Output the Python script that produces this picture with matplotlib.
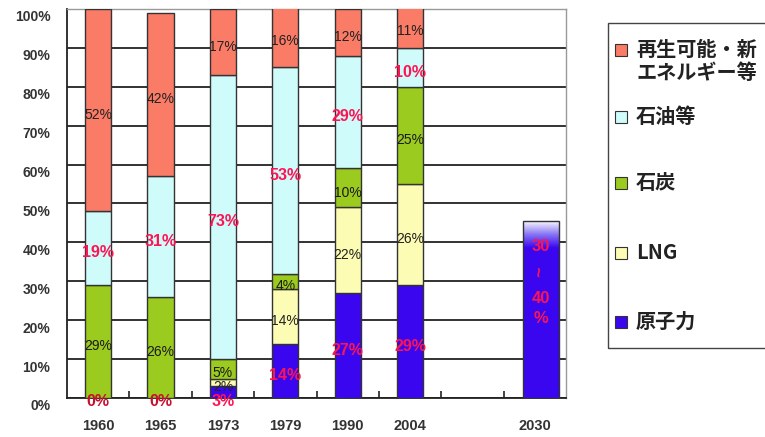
import matplotlib
matplotlib.use("Agg")
import matplotlib.pyplot as plt
import matplotlib.patches as mpatches
import matplotlib.transforms as mtransforms
import numpy as np

# 電源構成比 (%)
years = ["1960", "1965", "1973", "1979", "1990", "2004", "", "2030"]
nuclear = [0, 0, 3, 14, 27, 29]
lng = [0, 0, 2, 14, 22, 26]
coal = [29, 26, 5, 4, 10, 25]
oil = [19, 31, 73, 53, 29, 10]
renewable = [52, 42, 17, 16, 12, 11]
nuclear_2030 = (30, 40)  # 目標レンジ

series_names = ["再生可能・新\nエネルギー等", "石油等", "石炭", "LNG", "原子力"]
series_colors = ["#FA7B66", "#CFFBFB", "#9BCB1E", "#FCFCB4", "#3A06F0"]
red_label = "#FF1453"

plt.rcParams["font.family"] = ["Liberation Sans", "DejaVu Sans"]

fig = plt.figure(figsize=(7.65, 4.37), dpi=100)
W, H = 765, 437
ax = fig.add_axes([67 / W, 1 - 398 / H, (566 - 67) / W, (398 - 9) / H])

x = np.arange(len(nuclear))
bw = 0.42
stack = [(nuclear, series_colors[4], red_label, "bold", 11.5),
         (lng, series_colors[3], "#222222", "normal", 10),
         (coal, series_colors[2], "#1a1a1a", "normal", 10),
         (oil, series_colors[1], red_label, "bold", 11.5),
         (renewable, series_colors[0], "#222222", "normal", 10)]

bottom = np.zeros(len(x))
for i, (vals, col, tcol, tw, ts) in enumerate(stack):
    vals = np.array(vals, dtype=float)
    ax.bar(x, vals, bw, bottom=bottom, color=col, edgecolor="#333333",
           linewidth=1.0, zorder=3)
    for xi, b, v in zip(x, bottom, vals):
        if i == 0 and v < 5:
            # 小さい値は軸上に表示
            c = "#C8102E" if v == 0 else tcol
            ax.text(xi, -0.8, f"{v:.0f}%", ha="center", va="center",
                    color=c, fontsize=ts, fontweight="bold", zorder=5, clip_on=False)
            continue
        if v == 0:
            continue
        ax.text(xi, b + v / 2 - 1.2, f"{v:.0f}%", ha="center", va="center",
                color=tcol, fontsize=ts, fontweight=tw, zorder=5, clip_on=False)
    bottom += vals

# 2030年：原子力 30〜40% （上端はグラデーション）
lo, hi = nuclear_2030
x30, w30 = 7.1, 0.58
solid_top = hi - 1.5
fade_top = hi + 5.5
ax.bar(x30, solid_top, w30, color=series_colors[4], linewidth=0, zorder=3)
grad = np.linspace(0, 1, 64).reshape(-1, 1)
cmap = matplotlib.colors.LinearSegmentedColormap.from_list(
    "fade", [series_colors[4], "#8a78f4", "#ffffff"])
ax.imshow(grad, cmap=cmap, origin="lower", aspect="auto", zorder=3,
          extent=(x30 - w30 / 2, x30 + w30 / 2, solid_top, fade_top))
ax.add_patch(mpatches.Rectangle((x30 - w30 / 2, 0), w30, fade_top, fill=False,
                                edgecolor="#333333", linewidth=1.0, zorder=4))
ax.text(x30, 39, str(lo), ha="center", va="center", color=red_label,
        fontsize=12, fontweight="bold", zorder=5)
ax.text(x30, 32.5, "~", ha="center", va="center", color=red_label,
        fontsize=13, fontweight="bold", rotation=90, zorder=5)
ax.text(x30, 25.5, str(hi), ha="center", va="center", color=red_label,
        fontsize=12, fontweight="bold", zorder=5)
ax.text(x30, 20.5, "%", ha="center", va="center", color=red_label,
        fontsize=12, fontweight="bold", zorder=5)

# 軸
ax.set_xlim(-0.5, 7.5)
ax.set_ylim(0, 100)
ax.set_yticks(np.arange(0, 101, 10))
ax.set_yticklabels([f"{v}%" for v in range(0, 101, 10)])
ax.yaxis.grid(True, color="#222222", linewidth=1.3, zorder=1)
ax.set_axisbelow(True)
ax.tick_params(axis="y", length=0, pad=12, labelsize=10, labelcolor="#333333")
offset = mtransforms.ScaledTranslation(0, -5 / 72, fig.dpi_scale_trans)
for lab in ax.get_yticklabels():
    lab.set_fontweight("bold")
    lab.set_transform(lab.get_transform() + offset)

ax.set_xticks(np.arange(len(years)))
ax.set_xticklabels(years)
ax.set_xticks(np.arange(len(years) - 1) + 0.5, minor=True)
ax.tick_params(axis="x", which="major", length=0, pad=15, labelsize=10.5,
               labelcolor="#333333")
ax.tick_params(axis="x", which="minor", direction="in", length=5, width=1.2,
               color="#222222")
for lab in ax.get_xticklabels():
    lab.set_fontweight("bold")

for s in ["left", "bottom"]:
    ax.spines[s].set_color("#222222")
    ax.spines[s].set_linewidth(1.3)
for s in ["top", "right"]:
    ax.spines[s].set_color("#999999")
    ax.spines[s].set_linewidth(1.0)

# 凡例
fig.patches.append(mpatches.Rectangle((608 / W, 1 - 348 / H), 170 / W, 325 / H,
                                      transform=fig.transFigure, fill=False,
                                      edgecolor="#444444", linewidth=1.0))
legend_y = [50, 117, 183, 253, 322]
for name, col, ly in zip(series_names, series_colors, legend_y):
    fig.patches.append(mpatches.Rectangle((615 / W, 1 - (ly + 6) / H), 12 / W, 12 / H,
                                          transform=fig.transFigure, facecolor=col,
                                          edgecolor="#333333", linewidth=0.8))
    fig.text(636 / W, 1 - (ly - 11) / H, name, ha="left", va="top",
             fontsize=14.5, fontweight="bold", color="#222222",
             family=["Noto Sans CJK JP", "DejaVu Sans"], linespacing=1.1)

fig.savefig("out.png", dpi=100)
